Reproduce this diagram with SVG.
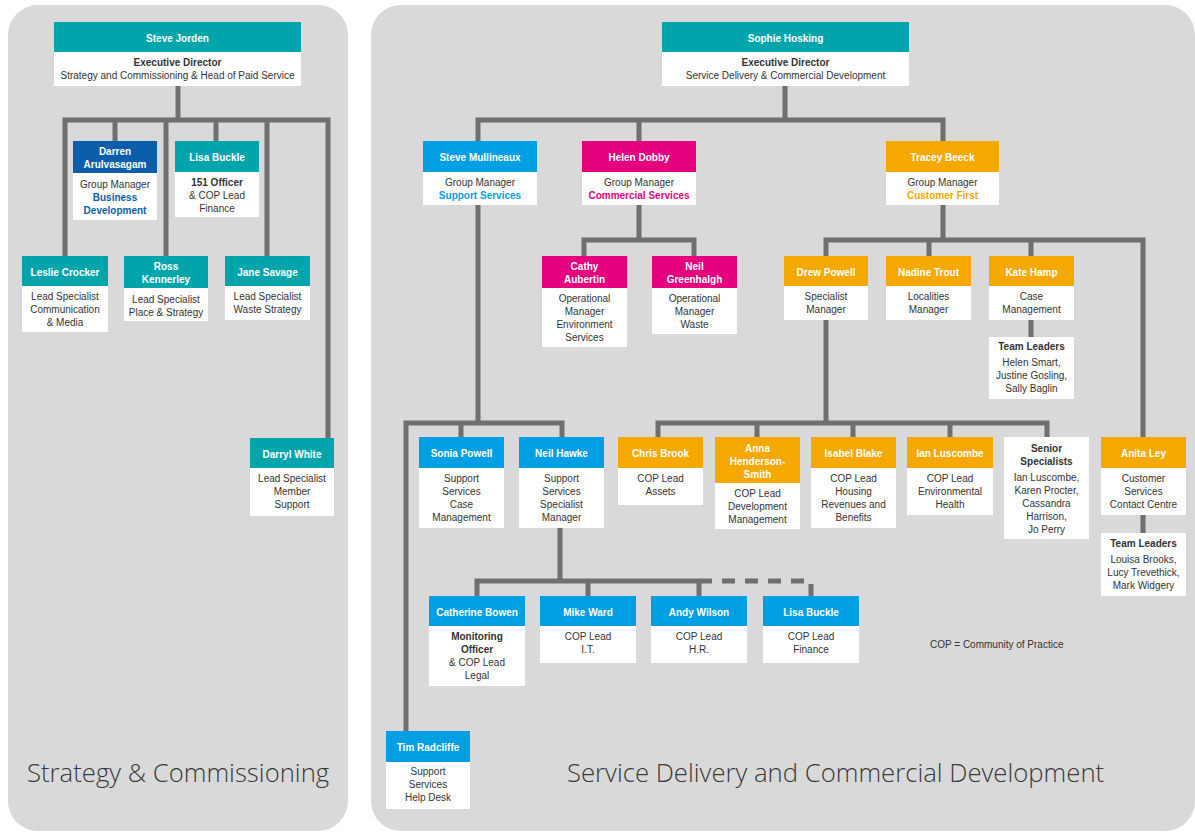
<svg xmlns="http://www.w3.org/2000/svg" width="1195" height="832" viewBox="0 0 1195 832">
<style>
.panel{fill:#d9d9d9}
.w{fill:#ffffff}
.teal{fill:#00a5ac}
.dblue{fill:#0b5ea9}
.lblue{fill:#009fe3}
.mag{fill:#e5007d}
.org{fill:#f5a800}
text{font-family:"Liberation Sans",Arial,sans-serif;font-size:10px;text-anchor:middle}
.h{fill:#ffffff;font-weight:bold}
.t{fill:#333333}
.b{font-weight:bold}
.cb{fill:#0b5ea9;font-weight:bold}
.cl{fill:#009fe3;font-weight:bold}
.cm{fill:#e5007d;font-weight:bold}
.co{fill:#f5a800;font-weight:bold}
.title{font-family:"Open Sans","Liberation Sans",sans-serif;font-weight:300;font-size:25.7px;fill:#3a3a3a;text-anchor:start}
.note{text-anchor:start;fill:#333333;font-size:10px}
.con{fill:none;stroke:#6f6f6f;stroke-width:5;stroke-linejoin:miter}
.dash{fill:none;stroke:#6f6f6f;stroke-width:5;stroke-dasharray:13 10}
</style>
<rect class="panel" x="8" y="5" width="340" height="826" rx="30"/>
<rect class="panel" x="371" y="5" width="824" height="826" rx="30"/>

<g id="connectors">
<path class="con" d="M178 86V120"/>
<path class="con" d="M65 256V120H328V438"/>
<path class="con" d="M115 120V141"/>
<path class="con" d="M166 120V256"/>
<path class="con" d="M216 120V141"/>
<path class="con" d="M267 120V256"/>
<path class="con" d="M785 86V120"/>
<path class="con" d="M478 141V120H943V141"/>
<path class="con" d="M639 120V141"/>
<path class="con" d="M639 205V240"/>
<path class="con" d="M584 256V240H694V256"/>
<path class="con" d="M943 205V240"/>
<path class="con" d="M826 256V240H1143V437"/>
<path class="con" d="M929 240V256"/>
<path class="con" d="M1031 240V256"/>
<path class="con" d="M1031 320V337"/>
<path class="con" d="M826 320V423"/>
<path class="con" d="M658 437V423H1047V437"/>
<path class="con" d="M757 423V437"/>
<path class="con" d="M853 423V437"/>
<path class="con" d="M950 423V437"/>
<path class="con" d="M1143 515V533"/>
<path class="con" d="M478 205V423"/>
<path class="con" d="M406 731V423H562V437"/>
<path class="con" d="M461 423V437"/>
<path class="con" d="M560 528V581"/>
<path class="con" d="M477 596V581H712"/>
<path class="con" d="M588 581V596"/>
<path class="con" d="M699 581V596"/>
<path class="dash" d="M722 581H811V596"/>
</g>

<g id="steve-jorden">
<rect class="teal" x="54" y="22" width="247" height="30"/>
<rect class="w" x="54" y="52" width="247" height="34"/>
<text class="h" x="177.5" y="42">Steve Jorden</text>
<text class="t b" x="177.5" y="66">Executive Director</text>
<text class="t" x="177.5" y="79">Strategy and Commissioning &amp; Head of Paid Service</text>
</g>
<g id="darren">
<rect class="dblue" x="73" y="141" width="84" height="32"/>
<rect class="w" x="73" y="173" width="84" height="47"/>
<text class="h" x="115" y="155">Darren</text>
<text class="h" x="115" y="168">Arulvasagam</text>
<text class="t" x="115" y="188">Group Manager</text>
<text class="cb" x="115" y="201">Business</text>
<text class="cb" x="115" y="214">Development</text>
</g>
<g id="lisa-buckle-left">
<rect class="teal" x="175" y="141" width="84" height="31"/>
<rect class="w" x="175" y="172" width="84" height="45"/>
<text class="h" x="217" y="161">Lisa Buckle</text>
<text class="t b" x="217" y="186">151 Officer</text>
<text class="t" x="217" y="199">&amp; COP Lead</text>
<text class="t" x="217" y="212">Finance</text>
</g>
<g id="leslie-crocker">
<rect class="teal" x="22" y="256" width="86" height="30"/>
<rect class="w" x="22" y="286" width="86" height="46"/>
<text class="h" x="65" y="276">Leslie Crocker</text>
<text class="t" x="65" y="300">Lead Specialist</text>
<text class="t" x="65" y="313">Communication</text>
<text class="t" x="65" y="326">&amp; Media</text>
</g>
<g id="ross-kennerley">
<rect class="teal" x="124" y="256" width="84" height="32"/>
<rect class="w" x="124" y="288" width="84" height="33"/>
<text class="h" x="166" y="270">Ross</text>
<text class="h" x="166" y="283">Kennerley</text>
<text class="t" x="166" y="303">Lead Specialist</text>
<text class="t" x="166" y="316">Place &amp; Strategy</text>
</g>
<g id="jane-savage">
<rect class="teal" x="225" y="256" width="85" height="30"/>
<rect class="w" x="225" y="286" width="85" height="34"/>
<text class="h" x="267.5" y="276">Jane Savage</text>
<text class="t" x="267.5" y="300">Lead Specialist</text>
<text class="t" x="267.5" y="313">Waste Strategy</text>
</g>
<g id="darryl-white">
<rect class="teal" x="250" y="438" width="84" height="30"/>
<rect class="w" x="250" y="468" width="84" height="48"/>
<text class="h" x="292" y="458">Darryl White</text>
<text class="t" x="292" y="482">Lead Specialist</text>
<text class="t" x="292" y="495">Member</text>
<text class="t" x="292" y="508">Support</text>
</g>

<g id="sophie-hosking">
<rect class="teal" x="662" y="22" width="247" height="30"/>
<rect class="w" x="662" y="52" width="247" height="34"/>
<text class="h" x="785.5" y="42">Sophie Hosking</text>
<text class="t b" x="785.5" y="66">Executive Director</text>
<text class="t" x="785.5" y="79">Service Delivery &amp; Commercial Development</text>
</g>
<g id="steve-mullineaux">
<rect class="lblue" x="423" y="141" width="114" height="31"/>
<rect class="w" x="423" y="172" width="114" height="33"/>
<text class="h" x="480" y="161">Steve Mullineaux</text>
<text class="t" x="480" y="186">Group Manager</text>
<text class="cl" x="480" y="199">Support Services</text>
</g>
<g id="helen-dobby">
<rect class="mag" x="582" y="141" width="114" height="31"/>
<rect class="w" x="582" y="172" width="114" height="33"/>
<text class="h" x="639" y="161">Helen Dobby</text>
<text class="t" x="639" y="186">Group Manager</text>
<text class="cm" x="639" y="199">Commercial Services</text>
</g>
<g id="tracey-beeck">
<rect class="org" x="886" y="141" width="113" height="31"/>
<rect class="w" x="886" y="172" width="113" height="33"/>
<text class="h" x="942.5" y="161">Tracey Beeck</text>
<text class="t" x="942.5" y="186">Group Manager</text>
<text class="co" x="942.5" y="199">Customer First</text>
</g>
<g id="cathy-aubertin">
<rect class="mag" x="542" y="256" width="85" height="32"/>
<rect class="w" x="542" y="288" width="85" height="59"/>
<text class="h" x="584.5" y="270">Cathy</text>
<text class="h" x="584.5" y="283">Aubertin</text>
<text class="t" x="584.5" y="302">Operational</text>
<text class="t" x="584.5" y="315">Manager</text>
<text class="t" x="584.5" y="328">Environment</text>
<text class="t" x="584.5" y="341">Services</text>
</g>
<g id="neil-greenhalgh">
<rect class="mag" x="652" y="256" width="85" height="32"/>
<rect class="w" x="652" y="288" width="85" height="46"/>
<text class="h" x="694.5" y="270">Neil</text>
<text class="h" x="694.5" y="283">Greenhalgh</text>
<text class="t" x="694.5" y="302">Operational</text>
<text class="t" x="694.5" y="315">Manager</text>
<text class="t" x="694.5" y="328">Waste</text>
</g>
<g id="drew-powell">
<rect class="org" x="784" y="256" width="84" height="30"/>
<rect class="w" x="784" y="286" width="84" height="34"/>
<text class="h" x="826" y="276">Drew Powell</text>
<text class="t" x="826" y="300">Specialist</text>
<text class="t" x="826" y="313">Manager</text>
</g>
<g id="nadine-trout">
<rect class="org" x="886" y="256" width="85" height="30"/>
<rect class="w" x="886" y="286" width="85" height="34"/>
<text class="h" x="928.5" y="276">Nadine Trout</text>
<text class="t" x="928.5" y="300">Localities</text>
<text class="t" x="928.5" y="313">Manager</text>
</g>
<g id="kate-hamp">
<rect class="org" x="989" y="256" width="85" height="30"/>
<rect class="w" x="989" y="286" width="85" height="34"/>
<text class="h" x="1031.5" y="276">Kate Hamp</text>
<text class="t" x="1031.5" y="300">Case</text>
<text class="t" x="1031.5" y="313">Management</text>
</g>
<g id="team-leaders-kate">
<rect class="w" x="989" y="337" width="85" height="62"/>
<text class="t b" x="1031.5" y="350">Team Leaders</text>
<text class="t" x="1031.5" y="366">Helen Smart,</text>
<text class="t" x="1031.5" y="379">Justine Gosling,</text>
<text class="t" x="1031.5" y="392">Sally Baglin</text>
</g>
<g id="chris-brook">
<rect class="org" x="618" y="437" width="85" height="31"/>
<rect class="w" x="618" y="468" width="85" height="37"/>
<text class="h" x="660.5" y="457">Chris Brook</text>
<text class="t" x="660.5" y="482">COP Lead</text>
<text class="t" x="660.5" y="495">Assets</text>
</g>
<g id="anna-henderson-smith">
<rect class="org" x="715" y="437" width="85" height="46"/>
<rect class="w" x="715" y="483" width="85" height="46"/>
<text class="h" x="757.5" y="452">Anna</text>
<text class="h" x="757.5" y="465">Henderson-</text>
<text class="h" x="757.5" y="478">Smith</text>
<text class="t" x="757.5" y="497">COP Lead</text>
<text class="t" x="757.5" y="510">Development</text>
<text class="t" x="757.5" y="523">Management</text>
</g>
<g id="isabel-blake">
<rect class="org" x="811" y="437" width="85" height="31"/>
<rect class="w" x="811" y="468" width="85" height="60"/>
<text class="h" x="853.5" y="457">Isabel Blake</text>
<text class="t" x="853.5" y="482">COP Lead</text>
<text class="t" x="853.5" y="495">Housing</text>
<text class="t" x="853.5" y="508">Revenues and</text>
<text class="t" x="853.5" y="521">Benefits</text>
</g>
<g id="ian-luscombe">
<rect class="org" x="907" y="437" width="86" height="31"/>
<rect class="w" x="907" y="468" width="86" height="47"/>
<text class="h" x="950" y="457">Ian Luscombe</text>
<text class="t" x="950" y="482">COP Lead</text>
<text class="t" x="950" y="495">Environmental</text>
<text class="t" x="950" y="508">Health</text>
</g>
<g id="senior-specialists">
<rect class="w" x="1004" y="437" width="85" height="102"/>
<text class="t b" x="1046.5" y="452">Senior</text>
<text class="t b" x="1046.5" y="465">Specialists</text>
<text class="t" x="1046.5" y="481">Ian Luscombe,</text>
<text class="t" x="1046.5" y="494">Karen Procter,</text>
<text class="t" x="1046.5" y="507">Cassandra</text>
<text class="t" x="1046.5" y="520">Harrison,</text>
<text class="t" x="1046.5" y="533">Jo Perry</text>
</g>
<g id="anita-ley">
<rect class="org" x="1101" y="437" width="85" height="31"/>
<rect class="w" x="1101" y="468" width="85" height="47"/>
<text class="h" x="1143.5" y="457">Anita Ley</text>
<text class="t" x="1143.5" y="482">Customer</text>
<text class="t" x="1143.5" y="495">Services</text>
<text class="t" x="1143.5" y="508">Contact Centre</text>
</g>
<g id="team-leaders-anita">
<rect class="w" x="1101" y="533" width="85" height="63"/>
<text class="t b" x="1143.5" y="547">Team Leaders</text>
<text class="t" x="1143.5" y="563">Louisa Brooks,</text>
<text class="t" x="1143.5" y="576">Lucy Trevethick,</text>
<text class="t" x="1143.5" y="589">Mark Widgery</text>
</g>
<g id="sonia-powell">
<rect class="lblue" x="419" y="437" width="85" height="31"/>
<rect class="w" x="419" y="468" width="85" height="60"/>
<text class="h" x="461.5" y="457">Sonia Powell</text>
<text class="t" x="461.5" y="482">Support</text>
<text class="t" x="461.5" y="495">Services</text>
<text class="t" x="461.5" y="508">Case</text>
<text class="t" x="461.5" y="521">Management</text>
</g>
<g id="neil-hawke">
<rect class="lblue" x="519" y="437" width="85" height="31"/>
<rect class="w" x="519" y="468" width="85" height="60"/>
<text class="h" x="561.5" y="457">Neil Hawke</text>
<text class="t" x="561.5" y="482">Support</text>
<text class="t" x="561.5" y="495">Services</text>
<text class="t" x="561.5" y="508">Specialist</text>
<text class="t" x="561.5" y="521">Manager</text>
</g>
<g id="catherine-bowen">
<rect class="lblue" x="429" y="596" width="96" height="30"/>
<rect class="w" x="429" y="626" width="96" height="60"/>
<text class="h" x="477" y="616">Catherine Bowen</text>
<text class="t b" x="477" y="640">Monitoring</text>
<text class="t b" x="477" y="653">Officer</text>
<text class="t" x="477" y="666">&amp; COP Lead</text>
<text class="t" x="477" y="679">Legal</text>
</g>
<g id="mike-ward">
<rect class="lblue" x="540" y="596" width="96" height="30"/>
<rect class="w" x="540" y="626" width="96" height="37"/>
<text class="h" x="588" y="616">Mike Ward</text>
<text class="t" x="588" y="640">COP Lead</text>
<text class="t" x="588" y="653">I.T.</text>
</g>
<g id="andy-wilson">
<rect class="lblue" x="651" y="596" width="96" height="30"/>
<rect class="w" x="651" y="626" width="96" height="37"/>
<text class="h" x="699" y="616">Andy Wilson</text>
<text class="t" x="699" y="640">COP Lead</text>
<text class="t" x="699" y="653">H.R.</text>
</g>
<g id="lisa-buckle-right">
<rect class="lblue" x="763" y="596" width="96" height="30"/>
<rect class="w" x="763" y="626" width="96" height="37"/>
<text class="h" x="811" y="616">Lisa Buckle</text>
<text class="t" x="811" y="640">COP Lead</text>
<text class="t" x="811" y="653">Finance</text>
</g>
<g id="tim-radcliffe">
<rect class="lblue" x="386" y="731" width="84" height="31"/>
<rect class="w" x="386" y="762" width="84" height="47"/>
<text class="h" x="428" y="751">Tim Radcliffe</text>
<text class="t" x="428" y="775">Support</text>
<text class="t" x="428" y="788">Services</text>
<text class="t" x="428" y="801">Help Desk</text>
</g>

<text class="note" x="930" y="648">COP = Community of Practice</text>
<text class="title" x="27" y="782">Strategy &amp; Commissioning</text>
<text class="title" x="567" y="782">Service Delivery and Commercial Development</text>
</svg>
